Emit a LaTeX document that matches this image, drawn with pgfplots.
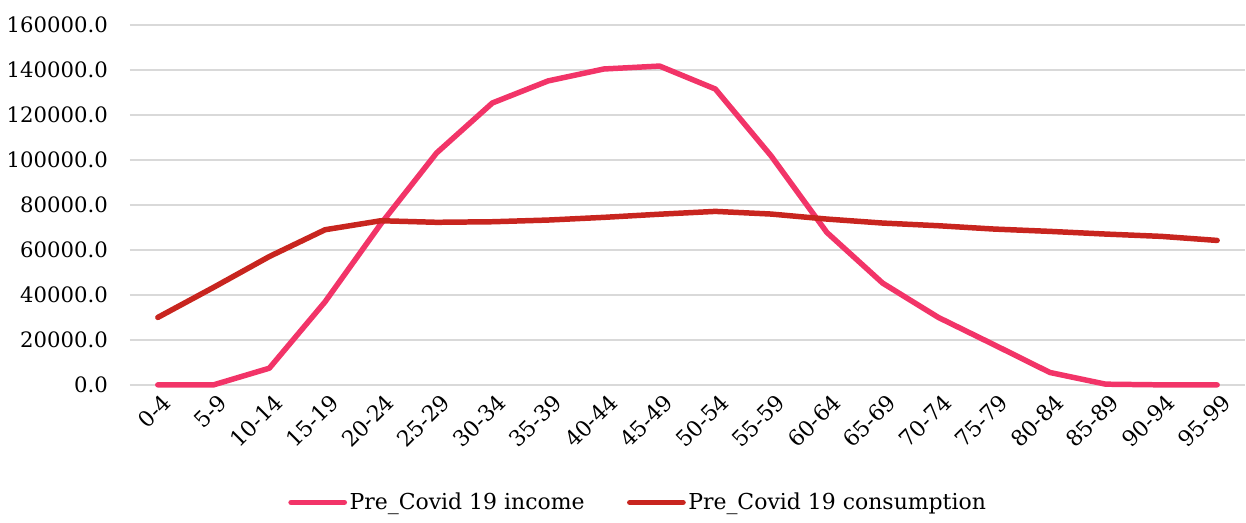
\documentclass[border=0pt]{standalone}
\usepackage{fontspec}
\setmainfont{DejaVu Serif}
\usepackage{pgfplots}
\pgfplotsset{compat=1.18}
\definecolor{incomec}{HTML}{F23468}
\definecolor{consc}{HTML}{C8251F}
\definecolor{gridc}{HTML}{D9D9D9}
\begin{document}
\fontsize{8}{9.6}\selectfont
\begin{tikzpicture}
\begin{axis}[
  scale only axis, width=447pt, height=144.4pt,
  xmin=-0.5, xmax=19.5, ymin=0, ymax=160000,
  xtick={0,...,19},
  xticklabels={0-4,5-9,10-14,15-19,20-24,25-29,30-34,35-39,40-44,45-49,50-54,55-59,60-64,65-69,70-74,75-79,80-84,85-89,90-94,95-99},
  x tick label style={rotate=45, anchor=north east, inner sep=1pt, yshift=-2pt, font=\fontsize{8.8}{10}\selectfont},
  ytick={0,20000,...,160000},
  yticklabel={\pgfmathprintnumber[fixed,fixed zerofill,precision=1,use period,1000 sep={}]{\tick}},
  y tick label style={font=\fontsize{8.5}{10}\selectfont, xshift=-6pt},
  /pgf/number format/assume math mode=true,
  scaled y ticks=false,
  axis line style={draw=none},
  major tick length=0pt,
  ymajorgrids, grid style={gridc, line width=0.8pt},
  legend style={at={(0.456,-0.27)}, anchor=north, draw=none, legend columns=2,
    font=\fontsize{8.8}{10}\selectfont, nodes={inner xsep=1pt},
    /tikz/every even column/.append style={column sep=16pt}},
  legend image code/.code={\draw[#1, line cap=round] (0cm,0cm) -- (0.75cm,0cm);},
  legend cell align=left,
  clip=false,
]
\addplot[incomec, line width=2.2pt, line join=round, line cap=round] coordinates {
(0,0) (1,0) (2,7400) (3,36900) (4,71500) (5,103000) (6,125200) (7,135000) (8,140300) (9,141600)
(10,131400) (11,101700) (12,67700) (13,45200) (14,29950) (15,17800) (16,5500) (17,300) (18,0) (19,0)};
\addlegendentry{Pre\_Covid 19 income}
\addplot[consc, line width=2.2pt, line join=round, line cap=round] coordinates {
(0,29950) (1,43300) (2,57000) (3,68900) (4,72900) (5,72200) (6,72450) (7,73200) (8,74400) (9,75800)
(10,77050) (11,75870) (12,73640) (13,71870) (14,70680) (15,69200) (16,68170) (17,66980) (18,65950) (19,64150)};
\addlegendentry{Pre\_Covid 19 consumption}
\end{axis}
\path (current bounding box.north) ++(0,4pt);
\end{tikzpicture}
\end{document}
